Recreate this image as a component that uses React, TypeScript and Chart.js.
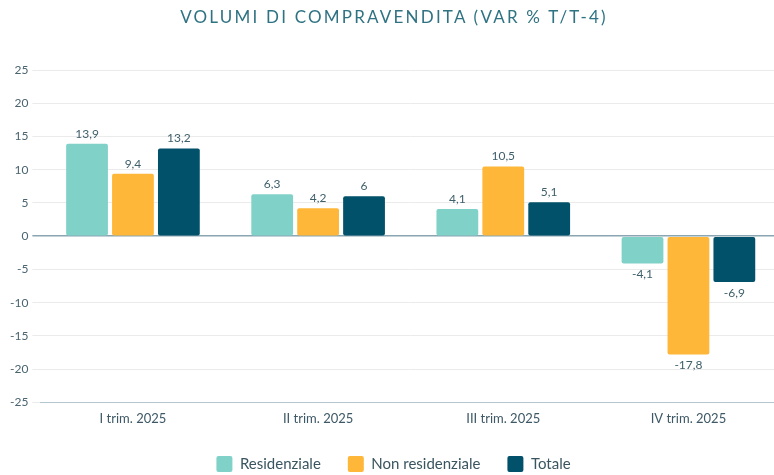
import React, { useEffect, useRef } from "react";
import { Chart, registerables } from "chart.js";

Chart.register(...registerables);

const categories = ["I trim. 2025", "II trim. 2025", "III trim. 2025", "IV trim. 2025"];
const residenziale = [13.9, 6.3, 4.1, -4.1];
const nonResidenziale = [9.4, 4.2, 10.5, -17.8];
const totale = [13.2, 6, 5.1, -6.9];
const seriesNames = ["Residenziale", "Non residenziale", "Totale"];
const seriesColors = ["#80d2c8", "#ffb739", "#02516a"];
const yMin = -25;
const yMax = 25;
const yStep = 5;
const title = "VOLUMI DI COMPRAVENDITA (VAR % T/T-4)";

const FONT = "Lato, 'Noto Sans', sans-serif";

const valueLabels = {
  id: "valueLabels",
  afterDatasetsDraw(chart: any) {
    const ctx = chart.ctx;
    ctx.save();
    ctx.font = `12px ${FONT}`;
    ctx.fillStyle = "#3f5f6b";
    ctx.textAlign = "center";
    chart.data.datasets.forEach((ds: any, i: number) => {
      const meta = chart.getDatasetMeta(i);
      meta.data.forEach((bar: any, j: number) => {
        const v = ds.data[j];
        const txt = String(v).replace(".", ",");
        if (v >= 0) {
          ctx.textBaseline = "bottom";
          ctx.fillText(txt, bar.x, bar.y - 4);
        } else {
          ctx.textBaseline = "top";
          ctx.fillText(txt, bar.x, bar.y + 5);
        }
      });
    });
    ctx.restore();
  },
};

const legendShift = {
  id: "legendShift",
  afterLayout(chart: any) {
    const lg = chart.legend;
    if (lg) {
      lg.top -= 7;
      lg.bottom -= 7;
    }
  },
};

export default function App() {
  const ref = useRef<HTMLCanvasElement>(null);
  useEffect(() => {
    const data = [residenziale, nonResidenziale, totale];
    const chart = new Chart(ref.current!, {
      type: "bar",
      data: {
        labels: categories,
        datasets: seriesNames.map((n, i) => ({
          label: n,
          data: data[i],
          backgroundColor: seriesColors[i],
          borderRadius: 2,
          borderSkipped: false,
          categoryPercentage: 0.744,
          barPercentage: 0.91,
        })),
      },
      options: {
        animation: false,
        responsive: false,
        maintainAspectRatio: false,
        layout: { padding: { top: 70, left: 6, right: 9, bottom: -14 } },
        plugins: {
          title: { display: false },
          tooltip: { enabled: false },
          legend: {
            position: "bottom",
            labels: {
              boxWidth: 16,
              boxHeight: 16,
              useBorderRadius: true,
              borderRadius: 2,
              padding: 27,
              color: "#3a5560",
              font: { family: FONT, size: 15 },
            },
          },
        },
        scales: {
          x: {
            grid: { display: false, drawTicks: false },
            border: { display: true, color: "#b3c6cf", width: 1 },
            ticks: { color: "#3d5866", font: { family: FONT, size: 13 }, padding: 9 },
          },
          y: {
            min: yMin,
            max: yMax,
            ticks: { stepSize: yStep, color: "#4a6470", font: { family: FONT, size: 12 }, padding: 4 },
            border: { display: false },
            grid: {
              tickLength: 8,
              color: (c: any) => (c.tick && c.tick.value === 0 ? "#8aa6b2" : "#ebebeb"),
              lineWidth: (c: any) => (c.tick && c.tick.value === 0 ? 1.5 : 1),
            },
          },
        },
      },
      plugins: [valueLabels, legendShift],
    });
    return () => chart.destroy();
  }, []);
  return (
    <div style={{ position: "fixed", left: 0, top: 0, width: 774, height: 475, overflow: "hidden", background: "#fff" }}>
      <canvas ref={ref} width={790} height={475} style={{ position: "absolute", left: 0, top: 0 }} />
      <div
        style={{
          position: "absolute",
          top: 6,
          left: 0,
          width: 788,
          textAlign: "center",
          fontFamily: FONT,
          fontSize: 17,
          letterSpacing: 2.2,
          color: "#2f7383",
        }}
      >
        {title}
      </div>
    </div>
  );
}
